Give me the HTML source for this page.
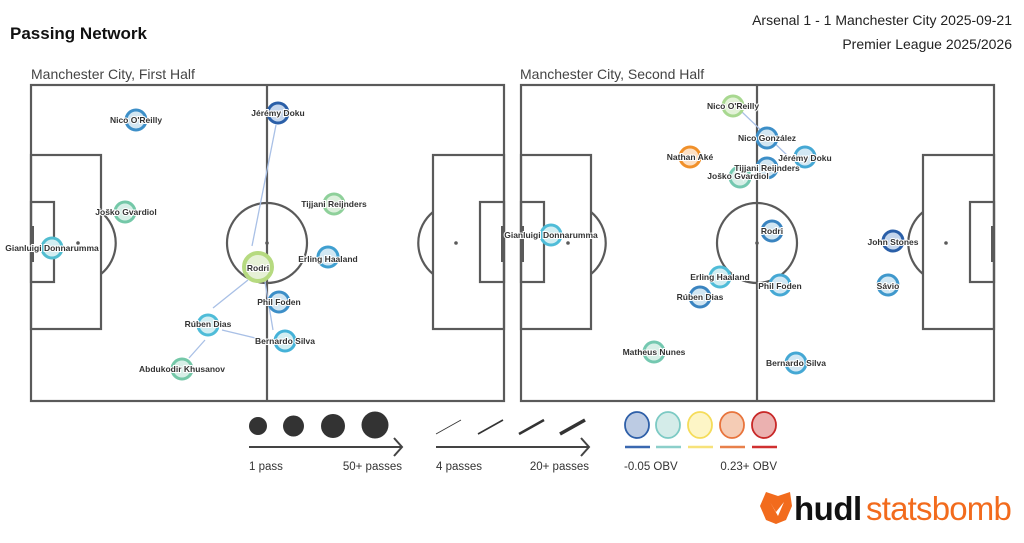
<!DOCTYPE html>
<html><head><meta charset="utf-8"><style>
html,body{margin:0;padding:0;background:#fff;}
svg{display:block;font-family:"Liberation Sans",sans-serif;}
.pl{fill:none;stroke:#5a5a5a;stroke-width:2.2;}
.nm{font-size:8.5px;font-weight:bold;fill:#333;text-anchor:middle;stroke:#fff;stroke-width:2px;paint-order:stroke;}
.lg{font-size:11.5px;fill:#333;}
.pass{stroke:#a9c0e6;stroke-width:1.3;}
</style></head><body>
<svg width="1024" height="543" viewBox="0 0 1024 543" xmlns="http://www.w3.org/2000/svg">
<rect width="1024" height="543" fill="#fff"/>
<text x="10" y="39" font-size="17" font-weight="bold" fill="#111">Passing Network</text>
<text x="1012" y="25" font-size="14" fill="#222" text-anchor="end">Arsenal 1 - 1 Manchester City 2025-09-21</text>
<text x="1012" y="49" font-size="14" fill="#222" text-anchor="end">Premier League 2025/2026</text>
<text x="31" y="79" font-size="14" fill="#444">Manchester City, First Half</text>
<text x="520" y="79" font-size="14" fill="#444">Manchester City, Second Half</text>
<defs>
<g id="pitch">
<rect class="pl" x="31" y="85" width="473" height="316"/>
<line class="pl" x1="267" y1="85" x2="267" y2="401"/>
<circle class="pl" cx="267" cy="243" r="40"/>
<circle cx="267" cy="243" r="1.8" fill="#5a5a5a"/>
<rect class="pl" x="31" y="155" width="70" height="174"/>
<rect class="pl" x="31" y="202" width="23" height="80"/>
<rect x="30" y="226" width="4" height="36" fill="#5a5a5a"/>
<circle cx="78" cy="243" r="1.8" fill="#5a5a5a"/>
<path class="pl" d="M101 212 A40 40 0 0 1 101 274"/>
<rect class="pl" x="433" y="155" width="71" height="174"/>
<rect class="pl" x="480" y="202" width="24" height="80"/>
<rect x="501" y="226" width="4" height="36" fill="#5a5a5a"/>
<circle cx="456" cy="243" r="1.8" fill="#5a5a5a"/>
<path class="pl" d="M433 212 A40 40 0 0 0 433 274"/>
</g>
</defs>
<use href="#pitch"/>
<use href="#pitch" transform="translate(490,0)"/>

<line class="pass" x1="276" y1="125" x2="252" y2="246"/>
<line class="pass" x1="248" y1="280" x2="213" y2="308"/>
<line class="pass" x1="265" y1="282" x2="273" y2="330"/>
<line class="pass" x1="222" y1="330" x2="272" y2="342"/>
<line class="pass" x1="189" y1="358" x2="205" y2="340"/>
<line class="pass" x1="742" y1="112" x2="790" y2="158"/>

<g stroke-width="3">
<circle cx="136" cy="120" r="10" fill="#d2e6f2" stroke="#3d8fc8"/>
<circle cx="278" cy="113" r="10" fill="#c5d6ec" stroke="#2a5fa8"/>
<circle cx="125" cy="212" r="10" fill="#d7efe7" stroke="#74c8a8"/>
<circle cx="52" cy="248" r="10" fill="#d3eef2" stroke="#52bdd0"/>
<circle cx="334" cy="204" r="10" fill="#dcf0dc" stroke="#8ed09a"/>
<circle cx="328" cy="257" r="10" fill="#d2e8f4" stroke="#3f9fd0"/>
<circle cx="258" cy="267" r="14" fill="#e6f1d6" stroke="#b6da80" stroke-width="4"/>
<circle cx="279" cy="302" r="10" fill="#d2e6f2" stroke="#3d8fc8"/>
<circle cx="208" cy="325" r="10" fill="#d3eef2" stroke="#4fbcd8"/>
<circle cx="285" cy="341" r="10" fill="#d3eef2" stroke="#45b2d8"/>
<circle cx="182" cy="369" r="10" fill="#d7efe7" stroke="#74c8a8"/>
<circle cx="733" cy="106" r="10" fill="#e3f2d8" stroke="#a8d890"/>
<circle cx="767" cy="138" r="10" fill="#d2e6f2" stroke="#3d8fc8"/>
<circle cx="690" cy="157" r="10" fill="#fde0c4" stroke="#f0902a"/>
<circle cx="805" cy="157" r="10" fill="#d2e8f4" stroke="#45a8d4"/>
<circle cx="767" cy="168" r="10" fill="#d2e6f2" stroke="#3d8fc8"/>
<circle cx="740" cy="177" r="10" fill="#d7efe7" stroke="#74c8b0"/>
<circle cx="551" cy="235" r="10" fill="#d3eef2" stroke="#4fbcd8"/>
<circle cx="772" cy="231" r="10" fill="#d2e6f2" stroke="#3a84c0"/>
<circle cx="893" cy="241" r="10" fill="#c5d6ec" stroke="#2a5fa8"/>
<circle cx="720" cy="277" r="10" fill="#d3eef2" stroke="#4fbcd8"/>
<circle cx="780" cy="285" r="10" fill="#d2e8f4" stroke="#45a8d4"/>
<circle cx="700" cy="297" r="10" fill="#d2e6f2" stroke="#3a84c0"/>
<circle cx="888" cy="285" r="10" fill="#d2e8f4" stroke="#3f98cc"/>
<circle cx="654" cy="352" r="10" fill="#d7efe7" stroke="#74c8b0"/>
<circle cx="796" cy="363" r="10" fill="#d2e8f4" stroke="#45a8d4"/>
</g>
<g class="nm">
<text x="136" y="123">Nico O'Reilly</text>
<text x="278" y="116">Jérémy Doku</text>
<text x="126" y="215">Joško Gvardiol</text>
<text x="52" y="251">Gianluigi Donnarumma</text>
<text x="334" y="207">Tijjani Reijnders</text>
<text x="328" y="262">Erling Haaland</text>
<text x="258" y="271">Rodri</text>
<text x="279" y="305">Phil Foden</text>
<text x="208" y="327">Rúben Dias</text>
<text x="285" y="344">Bernardo Silva</text>
<text x="182" y="372">Abdukodir Khusanov</text>
<text x="733" y="109">Nico O'Reilly</text>
<text x="767" y="141">Nico González</text>
<text x="690" y="160">Nathan Aké</text>
<text x="805" y="161">Jérémy Doku</text>
<text x="767" y="171">Tijjani Reijnders</text>
<text x="738" y="179">Joško Gvardiol</text>
<text x="551" y="238">Gianluigi Donnarumma</text>
<text x="772" y="234">Rodri</text>
<text x="893" y="245">John Stones</text>
<text x="720" y="280">Erling Haaland</text>
<text x="780" y="289">Phil Foden</text>
<text x="700" y="300">Rúben Dias</text>
<text x="888" y="289">Sávio</text>
<text x="654" y="355">Matheus Nunes</text>
<text x="796" y="366">Bernardo Silva</text>
</g>

<g fill="#333">
<circle cx="258" cy="426" r="9"/>
<circle cx="293.5" cy="426" r="10.5"/>
<circle cx="333" cy="426" r="12"/>
<circle cx="375" cy="425" r="13.5"/>
</g>
<g stroke="#444" stroke-width="2" fill="none">
<line x1="249" y1="447" x2="402" y2="447"/>
<polyline points="394,438 402,447 394,456"/>
<line x1="436" y1="447" x2="589" y2="447"/>
<polyline points="581,438 589,447 581,456"/>
</g>
<g stroke="#333" stroke-linecap="butt">
<line x1="436" y1="434" x2="461" y2="420" stroke-width="0.8"/>
<line x1="478" y1="434" x2="503" y2="420" stroke-width="1.6"/>
<line x1="519" y1="434" x2="544" y2="420" stroke-width="2.5"/>
<line x1="560" y1="434" x2="585" y2="420" stroke-width="3.5"/>
</g>
<text class="lg" x="249" y="470">1 pass</text>
<text class="lg" x="402" y="470" text-anchor="end">50+ passes</text>
<text class="lg" x="436" y="470">4 passes</text>
<text class="lg" x="589" y="470" text-anchor="end">20+ passes</text>
<g stroke-width="1.8">
<ellipse cx="637" cy="425" rx="12" ry="13" fill="#bccbe3" stroke="#2e5fa8"/>
<ellipse cx="668" cy="425" rx="12" ry="13" fill="#d4ece9" stroke="#7ccac4"/>
<ellipse cx="700" cy="425" rx="12" ry="13" fill="#fdf5c6" stroke="#f5dc5a"/>
<ellipse cx="732" cy="425" rx="12" ry="13" fill="#f5ccb5" stroke="#e8743c"/>
<ellipse cx="764" cy="425" rx="12" ry="13" fill="#ebb1b0" stroke="#c82828"/>
</g>
<g stroke-width="2.5">
<line x1="625" y1="447" x2="650" y2="447" stroke="#3a68b0"/>
<line x1="656" y1="447" x2="681" y2="447" stroke="#8ccfca"/>
<line x1="688" y1="447" x2="713" y2="447" stroke="#f7e27a"/>
<line x1="720" y1="447" x2="745" y2="447" stroke="#e8804a"/>
<line x1="752" y1="447" x2="777" y2="447" stroke="#d03030"/>
</g>
<text class="lg" x="624" y="470">-0.05 OBV</text>
<text class="lg" x="777" y="470" text-anchor="end">0.23+ OBV</text>

<path d="M766 492 L778 496 L790 492 L792 506 L786 520 L776 524 L766 520 L760 506 Z M770 502 L776 512 L784 502 L778 516 Z" fill="#f26b1d" fill-rule="evenodd"/>
<text x="794" y="520" font-size="33" font-weight="bold" fill="#111" letter-spacing="-0.5">hudl</text>
<text x="866" y="520" font-size="33" fill="#f26b1d" letter-spacing="-0.8">statsbomb</text>
</svg>
</body></html>
